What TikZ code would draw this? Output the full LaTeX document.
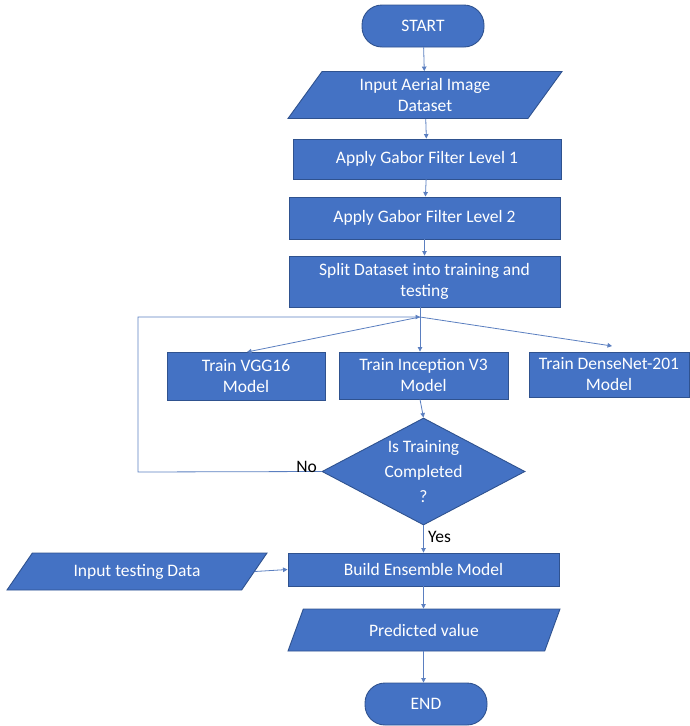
\documentclass[tikz,border=0pt]{standalone}
\usepackage{fontspec}
\setmainfont{Carlito}
\usetikzlibrary{shapes.geometric,arrows.meta}
\definecolor{boxblue}{HTML}{4472C4}
\definecolor{edgeblue}{HTML}{2F528F}
\definecolor{lineblue}{HTML}{5B7FC0}
\begin{document}
\begin{tikzpicture}[x=1pt,y=-1pt,
  base/.style={fill=boxblue,draw=edgeblue,line width=0.9pt,text=white,font=\fontsize{17.5}{21}\selectfont,align=center,inner sep=1pt},
  procbox/.style={base,rectangle},
  termbox/.style={base,rectangle,rounded corners=20pt},
  iobox/.style={base,trapezium,trapezium left angle=#1,trapezium right angle=180-#1,trapezium stretches body},
  decbox/.style={base,diamond,inner sep=0pt},
  dectext/.style={text=white,font=\fontsize{17.5}{25}\selectfont,align=center,inner sep=0pt},
  arr/.style={draw=lineblue,line width=0.8pt,-{Triangle[length=4.5pt,width=4.5pt]}},
  ln/.style={draw=lineblue,line width=0.8pt},
  lbl/.style={font=\fontsize{17.5}{21}\selectfont,text=black,inner sep=1pt}
]
\useasboundingbox (0,0) rectangle (689,726);

\node[termbox,minimum width=122pt,minimum height=42pt] (start) at (423,26) {START};
\node[iobox=46,minimum width=274pt,minimum height=47pt] (in1) at (425,95) {Input Aerial Image\\Dataset};
\node[procbox,minimum width=268pt,minimum height=40pt] (g1) at (427,159) {Apply Gabor Filter Level 1};
\node[procbox,minimum width=271pt,minimum height=42pt] (g2) at (424.5,218) {Apply Gabor Filter Level 2};
\node[procbox,minimum width=271pt,minimum height=51pt] (split) at (424.5,281.5) {Split Dataset into training and\\testing};
\coordinate (j) at (420,317);
\node[procbox,minimum width=158pt,minimum height=48pt] (vgg) at (246,376) {Train VGG16\\Model};
\node[procbox,minimum width=169pt,minimum height=47pt] (inc) at (423.5,375.5) {Train Inception V3\\Model};
\node[procbox,minimum width=160pt,minimum height=45pt] (dense) at (609,374.5) {Train DenseNet-201\\Model};
\node[decbox,minimum width=203pt,minimum height=107pt,label={[dectext]center:{Is Training\\Completed\\?}}] (dec) at (423.5,471.5) {};
\coordinate (lc) at (138,472);
\node[procbox,minimum width=271pt,minimum height=33pt] (build) at (423.5,569.5) {Build Ensemble Model};
\node[iobox=34,minimum width=260pt,minimum height=37pt] (test) at (137,571.5) {Input testing Data};
\node[iobox=43,minimum width=272pt,minimum height=42pt] (pred) at (424,630) {Predicted value};
\node[termbox,minimum width=122pt,minimum height=42pt] (end) at (426,704) {END};

\draw[arr] (start) -- (in1);
\draw[arr] (in1) -- (g1);
\draw[arr] (g1) -- (g2);
\draw[arr] (g2) -- (split);
\draw[ln] (split.south -| j) -- (j);
\draw[arr] (j) -- (247,352);
\draw[arr] (j) -- (inc.north -| j);
\draw[arr] (j) -- (612,346);
\draw[arr] (inc.south -| j) -- (dec.north);
\draw[arr] (dec.west) -- (lc) -- (lc |- j) -- (j);
\node[lbl,anchor=south east] (no) at (318,474) {No};
\draw[arr] (dec.south) -- (build.north -| dec.south);
\node[lbl,anchor=west] (yes) at (427,537) {Yes};
\draw[arr] (test.east) -- (build.west);
\draw[arr] (build.south -| dec.south) -- (pred.north -| dec.south);
\draw[arr] (pred.south -| dec.south) -- (end.north -| dec.south);
\end{tikzpicture}
\end{document}
